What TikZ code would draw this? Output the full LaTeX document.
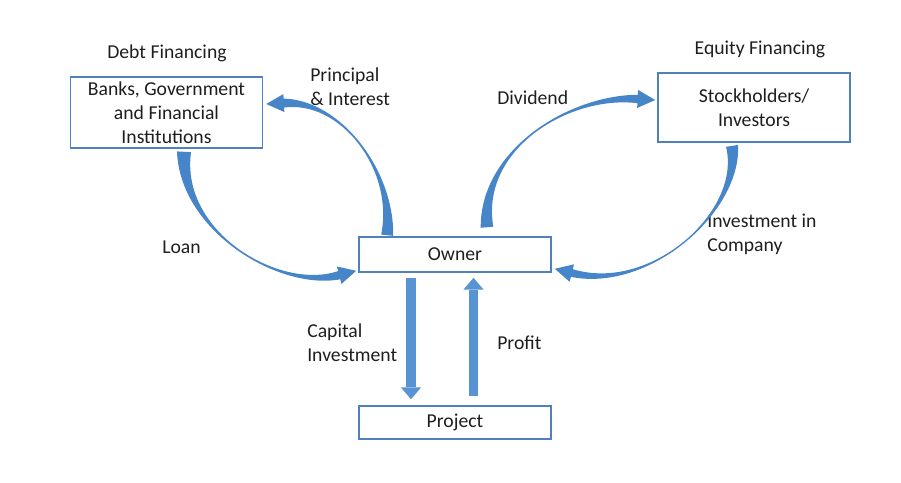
\documentclass[tikz,border=0pt]{standalone}
\usepackage{fontspec}
\setmainfont{Carlito}
\usetikzlibrary{arrows.meta,calc,positioning}
\definecolor{boxblue}{RGB}{79,129,189}
\definecolor{arrowblue}{RGB}{70,133,200}
\definecolor{arrowlight}{RGB}{88,148,212}
\definecolor{txtgray}{RGB}{30,30,30}
\tikzstyle{entity} = [rectangle,draw=boxblue,line width=1.1pt,align=center,minimum width=4.8cm,text=txtgray]
\tikzstyle{heading} = [text=txtgray]
\tikzstyle{flowlabel} = [align=left,anchor=west,inner sep=0pt,text=txtgray]
\tikzstyle{straightflow} = [arrowlight,line width=7.1pt,-{Triangle[line width=0pt,length=8.5pt,width=14.5pt]}]
\newcommand{\headlen}{12.5pt}
\newcommand{\headwd}{6.4pt}
% tapered curved arrow: tail, ctrl from tail, ctrl from tip, tip, half width at tail, half width at head
\newcommand{\curvedflow}[6]{%
  \coordinate (cf0) at #1;
  \coordinate (cfT) at #4;
  \coordinate (cf1) at ($(cf0)+#2$);
  \coordinate (cf2) at ($(cfT)+#3$);
  \coordinate (cfB) at ($(cfT)!\headlen!(cf2)$);
  \fill[arrowblue] ($(cf0)!#5!90:(cf1)$) .. controls (cf1) and (cf2) .. ($(cfB)!#6!-90:(cf2)$)
    -- ($(cfB)!\headwd!-90:(cf2)$) -- (cfT) -- ($(cfB)!\headwd!90:(cf2)$) -- ($(cfB)!#6!90:(cf2)$)
    .. controls (cf2) and (cf1) .. ($(cf0)!#5!-90:(cf1)$) -- cycle;}

\begin{document}
\begin{tikzpicture}[x=0.025cm,y=-0.025cm,font=\fontsize{14}{17}\selectfont]
\useasboundingbox (0,0) rectangle (901,482);

\node (banks) [entity,minimum height=1.73cm] at (166.5,112.5) {Banks, Government\\and Financial\\Institutions};
\node (stock) [entity,minimum height=1.73cm] at (754,107.5) {Stockholders/\\Investors};
\node (owner) [entity,minimum height=0.875cm] at (455,254.5) {Owner};
\node (project) [entity,minimum height=0.825cm] at (455,422.5) {Project};

\node (debt) [heading] at (167,53) {Debt Financing};
\node (equity) [heading] at (760,49) {Equity Financing};

\node (lprin) [flowlabel] at (310,87) {Principal\\\& Interest};
\node (ldiv) [flowlabel] at (497,98) {Dividend};
\node (lloan) [flowlabel] at (162,247) {Loan};
\node (linv) [flowlabel] at (707,234.5) {Investment in\\Company};
\node (lcap) [flowlabel] at (307,342.5) {Capital\\Investment};
\node (lprof) [flowlabel] at (497,343) {Profit};

\curvedflow{($(banks.south)+(17.5,3)$)}{(-4,80)}{(-77,20)}{($(owner.south west)+(-2,-2)$)}{5pt}{3pt}
\curvedflow{($(owner.north west)+(29,-1)$)}{(7,-66)}{(74,-4)}{($(banks.east)+(3,-8.5)$)}{4.3pt}{3.2pt}
\curvedflow{($(owner.north)+(32,-9)$)}{(-7,-78)}{(-86,-5)}{($(stock.west)+(-2,-7.5)$)}{4.5pt}{3pt}
\curvedflow{($(stock.south)+(-22,3)$)}{(10,65)}{(96,24)}{($(owner.south east)+(3,-4)$)}{4.3pt}{2.8pt}

\draw[straightflow] ($(owner.south)+(-44,5)$) -- ($(project.north)+(-44,-6)$);
\draw[straightflow] ($(project.north)+(18.5,-9)$) -- ($(owner.south)+(18.5,5)$);

\end{tikzpicture}
\end{document}
